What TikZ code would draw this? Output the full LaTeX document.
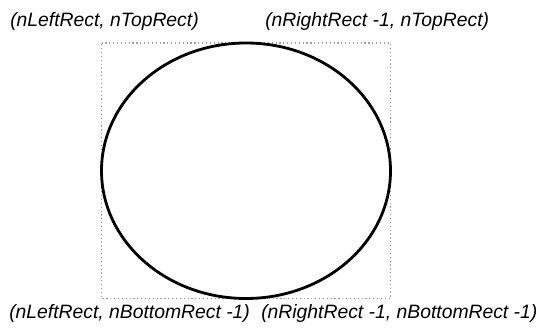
\documentclass[tikz,border=0pt]{standalone}
\usepackage{fontspec}
\setmainfont{Liberation Sans}
\begin{document}
\begin{tikzpicture}[x=0.75pt,y=0.75pt,yscale=-1,xscale=1]
            \useasboundingbox (0,0) rectangle (546,331);
            \draw  [color={rgb, 255:red, 160; green, 160; blue, 160 }  ,line width=0.9pt ,dotted ]  (101.5,43) -- (390.5,43) -- (390.5,298.5) -- (101.5,298.5) -- cycle ;
            \draw  [line width=2.1pt ]  (246,170.75) ellipse [x radius=144.5, y radius=127.75] ;
            \draw (10,27) node [anchor=base west][inner sep=0pt] (lefttop) [font=\fontsize{14.5}{17}\selectfont\itshape] {(nLeftRect, nTopRect)};
            \draw (265,27) node [anchor=base west][inner sep=0pt] (righttop) [font=\fontsize{14.5}{17}\selectfont\itshape] {(nRightRect -1, nTopRect)};
            \draw (9,318) node [anchor=base west][inner sep=0pt] (leftbottom) [font=\fontsize{14.5}{17}\selectfont\itshape] {(nLeftRect, nBottomRect -1)};
            \draw (261,318) node [anchor=base west][inner sep=0pt] (rightbottom) [font=\fontsize{14.5}{17}\selectfont\itshape] {(nRightRect -1, nBottomRect -1)};
\end{tikzpicture}
\end{document}
